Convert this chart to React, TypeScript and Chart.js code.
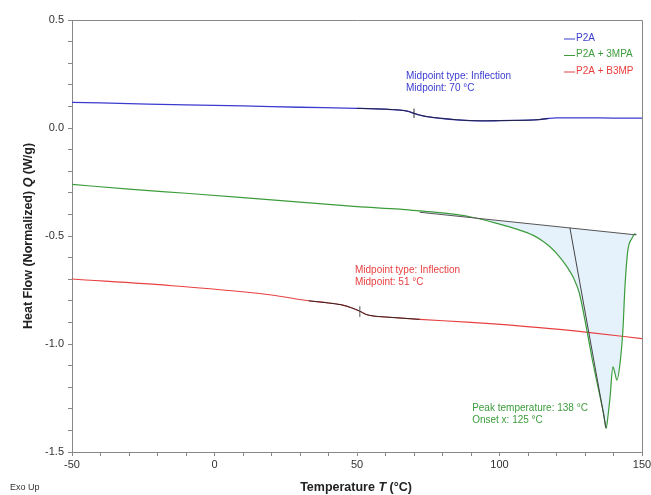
import React, { useEffect, useRef } from "react";
import { Chart, registerables } from "chart.js";

Chart.register(...registerables);

// ---- data ----
const blueT = [-50, -30, -10, 10, 30, 50, 60, 65, 68, 70, 72, 75, 80, 85, 90, 95, 100, 105, 110, 114, 117, 120, 125, 130, 140, 150];
const blueQ = [0.119, 0.113, 0.107, 0.102, 0.096, 0.091, 0.087, 0.083, 0.077, 0.068, 0.06, 0.052, 0.044, 0.038, 0.034, 0.033, 0.034, 0.035, 0.036, 0.039, 0.044, 0.047, 0.047, 0.047, 0.046, 0.046];

const greenT = [-50, -30, -10, 10, 30, 50, 65, 72, 80, 90, 100, 106, 111.7, 115, 117.7, 121, 123.7, 126, 128, 130.5, 132.8, 135.3, 136.5, 137.4, 138.1, 138.8, 139.8, 140.5, 141.2, 142.3, 143.3, 144, 145, 146.5, 147.5, 148];
const greenQ = [-0.261, -0.283, -0.302, -0.322, -0.343, -0.364, -0.376, -0.384, -0.393, -0.412, -0.445, -0.468, -0.496, -0.522, -0.55, -0.595, -0.643, -0.695, -0.764, -0.925, -1.088, -1.245, -1.32, -1.39, -1.33, -1.245, -1.106, -1.135, -1.167, -1.088, -0.935, -0.74, -0.57, -0.51, -0.49, -0.494];

const redT = [-50, -15, 20, 33, 40, 45, 48, 51, 53, 55.6, 60, 72, 90, 114, 131, 150];
const redQ = [-0.699, -0.73, -0.773, -0.8, -0.81, -0.82, -0.832, -0.848, -0.862, -0.87, -0.875, -0.886, -0.9, -0.924, -0.946, -0.975];

const baseT = [72, 148];
const baseQ = [-0.39, -0.495];
const tanT = [124.7, 137.4];
const tanQ = [-0.462, -1.39];

const blueMidT = 70;
const blueMidQ = 0.068;
const redMidT = 51;
const redMidQ = -0.85;

const blueOverlay = [45, 118];
const redOverlay = [33, 73];

const seriesNames = ["P2A", "P2A + 3MPA", "P2A + B3MP"];
const xTickMajor = 50;
const yTickMajor = 0.5;

const BLUE = "#3b3bd0";
const GREEN = "#3c9c3c";
const RED = "#e84040";
const DARK = "#333333";
const AXIS = "#888888";
const FONT = "'Liberation Sans', Arial, sans-serif";

const pts = (xs: number[], ys: number[]) => xs.map((x, i) => ({ x, y: ys[i] }));
const sub = (xs: number[], ys: number[], r: number[]) =>
  pts(xs, ys).filter((p) => p.x >= r[0] && p.x <= r[1]);

export default function App() {
  const ref = useRef<HTMLCanvasElement | null>(null);

  useEffect(() => {
    if (!ref.current) return;

    const fillShape = [
      ...pts(greenT, greenQ).filter((p) => p.x >= baseT[0] && p.x <= baseT[1]),
      { x: baseT[1], y: baseQ[1] },
      { x: baseT[0], y: baseQ[0] },
    ];

    const textPlugin = {
      id: "texts",
      afterDraw(chart: any) {
        const ctx = chart.ctx;
        const xs = chart.scales.x;
        const ys = chart.scales.y;
        const a = chart.chartArea;
        ctx.save();
        // frame top/right
        ctx.strokeStyle = AXIS;
        ctx.lineWidth = 1;
        ctx.beginPath();
        ctx.moveTo(a.left, a.top + 0.5);
        ctx.lineTo(a.right + 0.5, a.top + 0.5);
        ctx.lineTo(a.right + 0.5, a.bottom);
        ctx.stroke();

        // legend
        const legendColors = [BLUE, GREEN, RED];
        ctx.font = `10px ${FONT}`;
        ctx.textBaseline = "middle";
        ctx.textAlign = "left";
        seriesNames.forEach((n, i) => {
          const y = 38 + i * 16.5;
          ctx.strokeStyle = legendColors[i];
          ctx.beginPath();
          ctx.moveTo(564, y + 1);
          ctx.lineTo(575, y + 1);
          ctx.stroke();
          ctx.fillStyle = legendColors[i];
          ctx.fillText(n, 576, y);
        });

        // annotations
        const ann = (t: number, q: number, lines: string[], color: string) => {
          ctx.fillStyle = color;
          ctx.font = `10px ${FONT}`;
          ctx.textBaseline = "middle";
          ctx.textAlign = "left";
          lines.forEach((l, i) => ctx.fillText(l, xs.getPixelForValue(t), ys.getPixelForValue(q) + i * 12.5));
        };
        ann(67.2, 0.24, ["Midpoint type: Inflection", "Midpoint: 70 °C"], BLUE);
        ann(49.3, -0.657, ["Midpoint type: Inflection", "Midpoint: 51 °C"], RED);
        ann(90.4, -1.296, ["Peak temperature: 138 °C", "Onset x: 125 °C"], GREEN);

        // composite titles
        const parts = (p: [string, string][]) => {
          let w = 0;
          p.forEach(([s, f]) => {
            ctx.font = f;
            w += ctx.measureText(s).width;
          });
          return w;
        };
        const drawParts = (p: [string, string][], x0: number, y0: number) => {
          let x = x0;
          p.forEach(([s, f]) => {
            ctx.font = f;
            ctx.fillText(s, x, y0);
            x += ctx.measureText(s).width;
          });
        };
        const B = `bold 12.5px ${FONT}`;
        const BI = `italic bold 12.5px ${FONT}`;
        ctx.fillStyle = "#222";
        ctx.textBaseline = "middle";
        ctx.textAlign = "left";
        const xt: [string, string][] = [["Temperature ", B], ["T", BI], [" (°C)", B]];
        drawParts(xt, 356 - parts(xt) / 2, 488);
        const yt: [string, string][] = [["Heat Flow (Normalized) ", B], ["Q", BI], [" (W/g)", B]];
        ctx.save();
        ctx.translate(29, 236);
        ctx.rotate(-Math.PI / 2);
        drawParts(yt, -parts(yt) / 2, 0);
        ctx.restore();

        ctx.fillStyle = DARK;
        ctx.font = `9px ${FONT}`;
        ctx.fillText("Exo Up", 10, 488);
        ctx.restore();
      },
    };

    const line = (data: any[], color: string, order: number, width = 1, smooth = false) => ({
      data,
      showLine: true,
      borderColor: color,
      borderWidth: width,
      pointRadius: 0,
      fill: false,
      tension: smooth ? 0.4 : 0,
      cubicInterpolationMode: smooth ? "monotone" : "default",
      order,
    });

    const chart = new Chart(ref.current, {
      type: "scatter",
      data: {
        datasets: [
          {
            data: fillShape,
            showLine: true,
            borderWidth: 0,
            borderColor: "rgba(0,0,0,0)",
            backgroundColor: "rgba(226,239,251,0.9)",
            fill: "shape",
            pointRadius: 0,
            tension: 0,
            order: 10,
          } as any,
          line(pts(blueT, blueQ), BLUE, 5, 1.3, true),
          line(pts(greenT, greenQ), GREEN, 5, 1.2, true),
          line(pts(redT, redQ), RED, 5, 1.1, true),
          line(sub(blueT, blueQ, blueOverlay), "#222244", 2, 1, true),
          line(sub(redT, redQ, redOverlay), "#332222", 2, 1, true),
          line(pts(baseT, baseQ), "#555555", 1),
          line(pts(tanT, tanQ), "#444444", 1),
          line([{ x: blueMidT, y: blueMidQ - 0.022 }, { x: blueMidT, y: blueMidQ + 0.022 }], "#333333", 1),
          line([{ x: redMidT, y: redMidQ - 0.025 }, { x: redMidT, y: redMidQ + 0.025 }], "#555555", 1),
        ],
      },
      options: {
        animation: false,
        responsive: false,
        layout: { padding: { top: 20, right: 9, left: 0, bottom: 0 } },
        plugins: { legend: { display: false }, tooltip: { enabled: false } },
        scales: {
          x: {
            type: "linear",
            min: -50,
            max: 150,
            afterFit: (s: any) => {
              s.height = 43;
              s.paddingRight = 0;
              s.paddingLeft = 0;
            },
            ticks: {
              stepSize: 10,
              autoSkip: false,
              maxRotation: 0,
              padding: 2,
              color: DARK,
              font: { family: FONT, size: 11 },
              callback: (v: any) => (Math.abs(v % xTickMajor) < 1e-6 ? String(v) : ""),
            },
            grid: { display: true, drawOnChartArea: false, drawTicks: true, tickLength: 4, color: AXIS },
            border: { display: true, color: AXIS },
          },
          y: {
            type: "linear",
            min: -1.5,
            max: 0.5,
            afterFit: (s: any) => {
              s.width = 72;
            },
            ticks: {
              stepSize: 0.1,
              autoSkip: false,
              padding: 4,
              color: DARK,
              font: { family: FONT, size: 11 },
              callback: (v: any) => {
                const r = v / yTickMajor;
                return Math.abs(r - Math.round(r)) < 1e-6 ? (Math.round(r) * yTickMajor).toFixed(1) : "";
              },
            },
            grid: { display: true, drawOnChartArea: false, drawTicks: true, tickLength: 4, color: AXIS },
            border: { display: true, color: AXIS },
          },
        },
      },
      plugins: [textPlugin],
    } as any);

    return () => chart.destroy();
  }, []);

  return (
    <div style={{ position: "fixed", left: 0, top: 0, width: 651, height: 495, background: "#fff" }}>
      <canvas ref={ref} width={651} height={495} style={{ width: 651, height: 495 }} />
    </div>
  );
}
